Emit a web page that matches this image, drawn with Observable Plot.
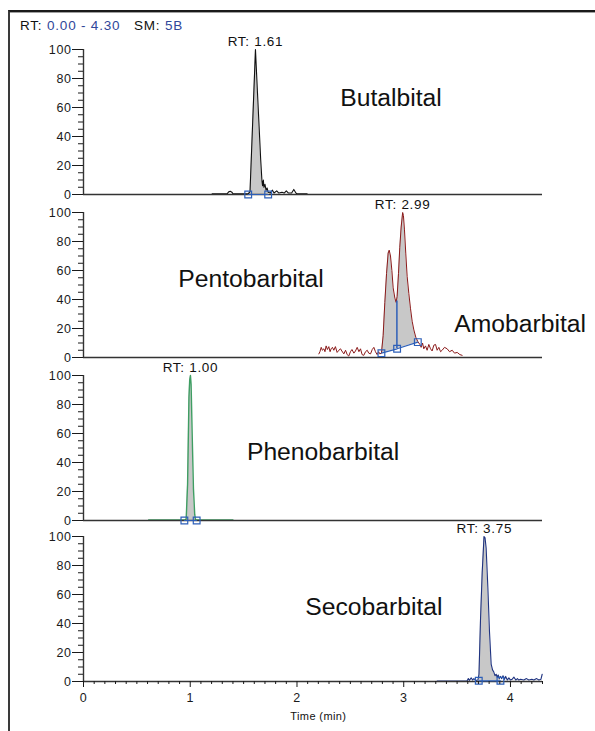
<!DOCTYPE html>
<html><head><meta charset="utf-8">
<script src="https://cdn.jsdelivr.net/npm/d3@7"></script>
<script src="https://cdn.jsdelivr.net/npm/@observablehq/plot@0.6"></script>
<style>
html,body{margin:0;padding:0;background:#fff;}
#wrap{position:relative;width:595px;height:731px;overflow:hidden;font-family:"Liberation Sans",Arial,sans-serif;}
#frame{position:absolute;left:8px;top:10px;width:600px;height:730px;border-top:2px solid #1a1a1a;border-left:2px solid #3a3a3a;}
#frame2{position:absolute;left:10px;top:12px;width:590px;height:1px;background:#a0a0a0;}
#header{position:absolute;left:20px;top:18px;font-size:13.5px;line-height:16px;letter-spacing:.8px;color:#111;white-space:pre;}
#header .v{color:#30479a;}
</style>
</head><body>
<div id="wrap">
  <div id="frame"></div><div id="frame2"></div>
  <div id="header"></div>
</div>
<script>
// ---- data ----
const timeRange = [0, 4.30];
const headerRT = "0.00 - 4.30";
const headerSM = "5B";
const yTicks = [0, 20, 40, 60, 80, 100];
const xTicks = [0, 1, 2, 3, 4];
const xLabel = "Time (min)";

const butalT = [1.205,1.30,1.345,1.36,1.375,1.39,1.40,1.50,1.545,1.56,1.585,1.611,1.63,1.645,1.66,1.672,1.678,1.685,1.69,1.70,1.71,1.72,1.73,1.75,1.77,1.785,1.81,1.83,1.86,1.88,1.90,1.92,1.95,1.97,1.99,2.00,2.095];
const butalI = [0.5,0.5,0.5,1.8,2.2,1.6,0.5,0.5,0.6,2,50,100,70,47,24,9,6,10,5,7,3,4.5,1.5,1,3,1,2.5,1,1.5,1,2.5,1,1,3.5,1,0.5,0.5];
const butalMarkT = [1.543, 1.73];
const butalMarkI = [0, 0];

const pentoT = [2.205,2.215,2.227,2.238,2.252,2.262,2.273,2.285,2.298,2.31,2.320,2.332,2.345,2.36,2.376,2.392,2.408,2.42,2.439,2.455,2.470,2.485,2.501,2.515,2.533,2.548,2.564,2.58,2.595,2.61,2.626,2.642,2.658,2.672,2.689,2.705,2.720,2.735,2.751,2.765,2.776,2.791,
  2.807,2.823,2.839,2.854,2.864,2.876,2.889,2.901,2.917,2.929,2.938,2.951,2.963,2.976,2.99,2.997,3.007,3.019,3.032,3.048,3.063,3.079,3.095,3.113,3.132,
  3.151,3.163,3.176,3.188,3.204,3.219,3.235,3.251,3.266,3.282,3.298,3.313,3.329,3.345,3.360,3.382,3.407,3.429,3.454,3.476,3.501,3.526,3.547];
const pentoI = [2.5,4,7,5,6,4,8,5.5,7.5,4,6,7,5,7.5,3.5,5,6,4.5,2.5,5,2,1,4,5.5,3,4.5,7,4,6,2,1.5,4,5,3,2.5,5.5,7,4,2,4,2.5,3,
  15,38,58,72,74,70,60,48,41,38,42,58,76,90,100,98,88,72,56,44,34,25,19,14,11,
  9,7,10,6,8,5,9,6,4.5,8.5,9,5,7,4,5,7,6,4,5,3,3.5,2,1.5];
const pentoMarkT = [2.791, 2.938, 3.132];
const pentoMarkI = [3, 6, 10.6];
const pentoSplitT = 2.936;
const pentoSplitI = [6, 39];

const phenoT = [0.61,0.80,0.95,0.962,0.975,0.988,0.995,1.002,1.008,1.018,1.03,1.042,1.05,1.20,1.40];
const phenoI = [0.3,0.3,0.3,1,25,85,97,100,94,60,22,4,0.5,0.3,0.3];
const phenoMarkT = [0.945, 1.06];
const phenoMarkI = [0, 0];

const secoT = [3.313,3.55,3.594,3.605,3.615,3.632,3.645,3.657,3.675,3.695,3.705,3.719,3.735,3.744,3.752,3.762,3.772,3.788,3.803,3.819,3.832,3.844,3.855,3.866,3.875,3.885,3.895,3.906,3.918,3.93,3.944,3.955,3.97,3.985,4.0,4.015,4.032,4.05,4.065,4.078,4.095,4.125,4.15,4.172,4.20,4.219,4.245,4.266,4.285,4.297];
const secoI = [0.3,0.3,0.5,2,0.8,2.5,1,2,0.8,1,5,42,75,88,100,99,92,65,35,12,8,6.5,4,5,3,4.5,2,3.5,2,4,1.5,3.5,1,2.5,1,1.5,3,1,2,1,1.5,1,2,1,1.5,1,2,1,1.5,5];
const secoMarkT = [3.703, 3.906];
const secoMarkI = [0.5, 0.5];

const rtLabels = ["RT: 1.61", "RT: 2.99", "RT: 1.00", "RT: 3.75"];
const rtTimes = [1.611, 2.99, 1.002, 3.755];
const compoundNames = ["Butalbital", "Pentobarbital", "Amobarbital", "Phenobarbital", "Secobarbital"];

// ---- drawing ----
document.getElementById("header").innerHTML =
  'RT: <span class="v">' + headerRT + '</span>   SM: <span class="v">' + headerSM + '</span>';

const H = 145, MT = 22;
const fillGrey = "#c8c8c8", markBlue = "#2d5fb8", axisCol = "#333";
const yMinor = d3.range(0, 101, 5).filter(v => v % 20 !== 0);
const xMinor = d3.range(0, 44).map(i => i / 10).filter(v => Math.abs(v - Math.round(v)) > 1e-9);

function makePanel(cfg) {
  const data = cfg.t.map((t, i) => ({t, v: cfg.v[i]}));
  const marks = cfg.markT.map((t, i) => ({t, v: cfg.markI[i]}));
  const base = d3.scaleLinear(cfg.markT, cfg.markI).clamp(true);
  const lo = cfg.markT[0], hi = cfg.markT[cfg.markT.length - 1];
  const fill = data.filter(d => d.t >= lo && d.t <= hi)
    .map(d => ({t: d.t, b: base(d.t), v: Math.max(d.v, base(d.t))}));
  const mb = cfg.xAxis ? 50 : 6;
  const m = [
    Plot.areaY(fill, {x: "t", y1: "b", y2: "v", fill: fillGrey}),
    Plot.line(data, {x: "t", y: "v", stroke: cfg.color, strokeWidth: cfg.sw || 1.1}),
    Plot.ruleY([0], {stroke: axisCol, strokeWidth: 1.6}),
    Plot.ruleX([0], {y1: 0, y2: 100, stroke: axisCol, strokeWidth: 1.4}),
    Plot.axisY({ticks: yTicks, tickSize: 11, tickPadding: 1, label: null}),
    Plot.axisY({ticks: yMinor, tickSize: 5, text: null, label: null}),
    Plot.line(marks, {x: "t", y: "v", stroke: markBlue, strokeWidth: 1.2}),
    Plot.dot(marks, {x: "t", y: "v", symbol: "square", r: 3.8, stroke: markBlue, fill: "none", strokeWidth: 1.2}),
    Plot.text([cfg.rtLabel], {x: () => cfg.rtTime, y: () => 100, dy: -8, lineAnchor: "middle", fontSize: 13.5, fill: "#111"}),
    ...cfg.names.map(n => Plot.text([n.name], {x: () => n.x, y: () => n.y, dy: 1, textAnchor: "start", lineAnchor: "middle", fontSize: 24.7, fill: "#111"}))
  ];
  if (cfg.split) m.splice(7, 0, Plot.ruleX([cfg.split.t], {y1: cfg.split.i[0], y2: cfg.split.i[1], stroke: markBlue, strokeWidth: 1.5}));
  if (cfg.xAxis) {
    m.push(
      Plot.axisX({ticks: xTicks, tickSize: 6, tickPadding: 6, tickFormat: "d", label: null}),
      Plot.axisX({ticks: xMinor, tickSize: 3, text: null, label: null}),
      Plot.text([xLabel], {x: () => 2.2, frameAnchor: "bottom", dy: 35, lineAnchor: "middle", fontSize: 11, fill: "#111"})
    );
  }
  const svg = Plot.plot({
    width: 595, height: MT + H + mb,
    marginLeft: 83, marginRight: 53, marginTop: MT, marginBottom: mb,
    x: {domain: timeRange, axis: null},
    y: {domain: [0, 100], axis: null},
    style: {overflow: "visible", background: "transparent", fontFamily: '"Liberation Sans", Arial, sans-serif', fontSize: "12.5px", letterSpacing: ".6px", color: "#1a1a1a"},
    marks: m
  });
  const s = d3.select(svg);
  s.selectAll("text").filter(function() { return compoundNames.includes(this.textContent); }).style("letter-spacing", "0px");
  s.selectAll("text").filter(function() { return rtLabels.includes(this.textContent); }).style("letter-spacing", "0.7px");
  s.selectAll("text").filter(function() { return this.textContent === xLabel; }).style("letter-spacing", "0.4px");
  svg.style.position = "absolute";
  svg.style.top = (cfg.top100 - MT) + "px";
  svg.style.left = "0px";
  document.getElementById("wrap").appendChild(svg);
}

makePanel({t: butalT, v: butalI, markT: butalMarkT, markI: butalMarkI, color: "#111", top100: 49,
  rtLabel: rtLabels[0], rtTime: rtTimes[0],
  names: [{name: compoundNames[0], x: 2.405, y: 67}]});
makePanel({t: pentoT, v: pentoI, markT: pentoMarkT, markI: pentoMarkI, color: "#8b1a1a", top100: 212, sw: 1,
  rtLabel: rtLabels[1], rtTime: rtTimes[1], split: {t: pentoSplitT, i: pentoSplitI},
  names: [{name: compoundNames[1], x: 0.888, y: 54.5}, {name: compoundNames[2], x: 3.473, y: 23.4}]});
makePanel({t: phenoT, v: phenoI, markT: phenoMarkT, markI: phenoMarkI, color: "#3f9e63", top100: 375, sw: 1.4,
  rtLabel: rtLabels[2], rtTime: rtTimes[2],
  names: [{name: compoundNames[3], x: 1.531, y: 47.7}]});
makePanel({t: secoT, v: secoI, markT: secoMarkT, markI: secoMarkI, color: "#1f3380", top100: 536, xAxis: true,
  rtLabel: rtLabels[3], rtTime: rtTimes[3],
  names: [{name: compoundNames[4], x: 2.078, y: 51.9}]});
</script>
</body></html>
